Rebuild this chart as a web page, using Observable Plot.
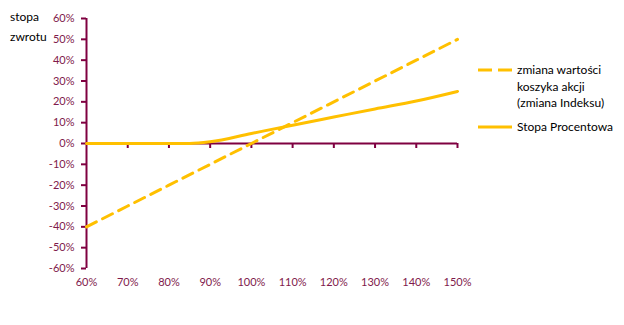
<!DOCTYPE html>
<html>
<head>
<meta charset="utf-8">
<script src="https://cdn.jsdelivr.net/npm/d3@7"></script>
<script src="https://cdn.jsdelivr.net/npm/@observablehq/plot@0.6"></script>
<style>
  html, body { margin: 0; padding: 0; background: #fff; }
  #chart { width: 624px; height: 325px; }
</style>
</head>
<body>
<div id="chart"></div>
<script>
// --- data ---
const xTicks = [60, 70, 80, 90, 100, 110, 120, 130, 140, 150];
const yTicks = [-60, -50, -40, -30, -20, -10, 0, 10, 20, 30, 40, 50, 60];

// zmiana wartości koszyka akcji (zmiana Indeksu)
const indexX = [60, 70, 80, 90, 100, 110, 120, 130, 140, 150];
const indexY = [-40, -30, -20, -10, 0, 10, 20, 30, 40, 50];

// Stopa Procentowa
const rateX = [60, 70, 80, 85, 90, 100, 110, 120, 130, 140, 150];
const rateY = [0, 0, 0, 0, 0.8, 4.8, 8.8, 12.7, 16.6, 20.4, 25];

const seriesNames = ["zmiana wartości\nkoszyka akcji\n(zmiana Indeksu)", "Stopa Procentowa"];
const yTitle = ["stopa", "zwrotu"];

const indexData = indexX.map((x, i) => ({x, y: indexY[i]}));
const rateData = rateX.map((x, i) => ({x, y: rateY[i]}));

const axisColor = "#7f0040";
const labelColor = "#7f1a4c";
const lineColor = "#ffc000";
const font = "Lato, 'Open Sans', sans-serif";

const plot = Plot.plot({
  width: 624,
  height: 325,
  marginLeft: 86,
  marginRight: 167,
  marginTop: 18,
  marginBottom: 57,
  style: {fontFamily: font, fontSize: "11px", background: "#fff"},
  x: {domain: [60, 150]},
  y: {domain: [-60, 60]},
  marks: [
    Plot.axisY(yTicks, {
      tickSize: 5, tickPadding: 7, tickFormat: d => d + "%",
      stroke: axisColor, strokeWidth: 2, fill: labelColor, label: null, fontSize: 11
    }),
    Plot.axisX(xTicks, {
      tickSize: 0, tickPadding: 10, tickFormat: d => d + "%",
      fill: labelColor, label: null, fontSize: 11
    }),
    Plot.ruleX(xTicks.slice(1), {x: d => d, y1: 0, y2: -2.4, stroke: axisColor, strokeWidth: 2}),
    Plot.ruleY([0], {x1: 60, x2: 150, stroke: axisColor, strokeWidth: 2}),
    Plot.ruleX([60], {y1: -60, y2: 60, stroke: axisColor, strokeWidth: 2}),
    Plot.line(indexData, {x: "x", y: "y", stroke: lineColor, strokeWidth: 3, strokeDasharray: "11,7"}),
    Plot.line(rateData, {x: "x", y: "y", stroke: lineColor, strokeWidth: 3, curve: "monotone-x"})
  ]
});

document.getElementById("chart").appendChild(plot);

// legend and axis title
const svg = d3.select(plot);
const t = svg.append("text").attr("font-family", font).attr("font-size", 12)
  .attr("fill", "#000").attr("text-anchor", "start");
yTitle.forEach((s, i) => t.append("tspan").attr("x", 10).attr("y", 21 + i * 20).text(s));

const lg = svg.append("g").attr("font-family", font).attr("font-size", 12)
  .attr("fill", "#000").attr("text-anchor", "start");
lg.append("line").attr("x1", 478).attr("x2", 512).attr("y1", 70).attr("y2", 70)
  .attr("stroke", lineColor).attr("stroke-width", 3).attr("stroke-dasharray", "14,6");
const lt = lg.append("text");
seriesNames[0].split("\n").forEach((s, i) => lt.append("tspan").attr("x", 517).attr("y", 74 + i * 16.5).text(s));
lg.append("line").attr("x1", 478).attr("x2", 512).attr("y1", 127).attr("y2", 127)
  .attr("stroke", lineColor).attr("stroke-width", 3);
lg.append("text").attr("x", 517).attr("y", 131).text(seriesNames[1]);
</script>
</body>
</html>
